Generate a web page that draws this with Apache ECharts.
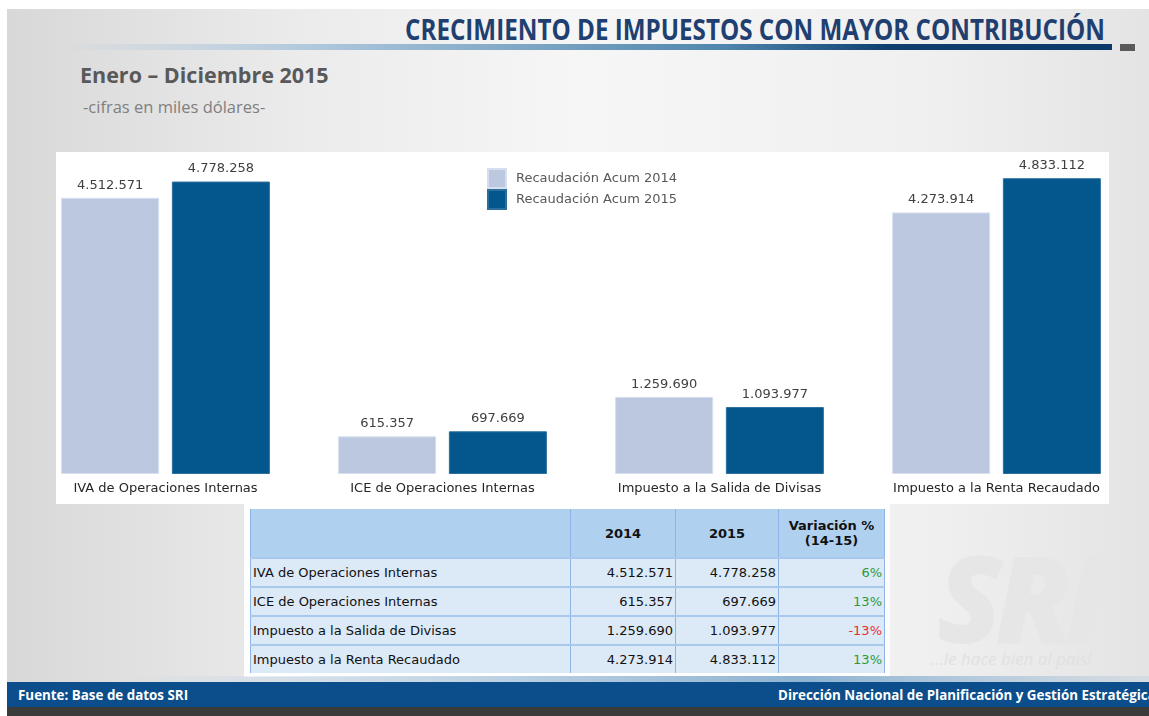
<!DOCTYPE html>
<html>
<head>
<meta charset="utf-8">
<script src="https://cdn.jsdelivr.net/npm/echarts@6/dist/echarts.min.js"></script>
<style>
  html, body { margin: 0; padding: 0; width: 1149px; height: 716px; overflow: hidden; background: #fff; }
  .slide { position: absolute; left: 7px; top: 9px; width: 1142px; height: 707px; overflow: hidden;
    background: linear-gradient(to right, #d8d8d8 0%, #ebebeb 25%, #f6f6f6 50%, #f0f0f0 80%, #e4e4e4 100%); }
  .title { position: absolute; left: 398px; top: 1px; font-family: "Open Sans", sans-serif;
    font-weight: bold; font-size: 28px; color: #1f3f70; white-space: nowrap; }
  .rule { position: absolute; left: 0; top: 35px; width: 1105px; height: 6px;
    background: linear-gradient(to right, rgba(200,215,228,0) 5%, #a9c4da 30%, #4f86ad 65%, #0d3e6e 80%, #0b3a6a 100%); }
  .rule-end { position: absolute; left: 1113px; top: 35px; width: 15px; height: 7px; background: #5a5a5a; }
  .sub1 { position: absolute; left: 73px; top: 51px; font-family: "Open Sans", sans-serif; font-weight: bold;
    font-size: 21.5px; color: #595959; white-space: nowrap; }
  .sub2 { position: absolute; left: 76px; top: 86px; font-family: "Open Sans", sans-serif; font-size: 16.5px;
    color: #7f7f7f; white-space: nowrap; }
  .chartbox { position: absolute; left: 49px; top: 143px; width: 1053px; height: 352px; background: #fff; }
  .wm { position: absolute; left: 930px; top: 528px; font-family: "Open Sans", sans-serif; font-weight: 800;
    font-style: italic; font-size: 120px; line-height: 1; color: #e6e6e6; letter-spacing: -8px; white-space: nowrap; }
  .wm2 { position: absolute; left: 924px; top: 638px; font-family: "Open Sans", sans-serif; font-style: italic;
    font-size: 17px; color: #e1e1e1; white-space: nowrap; }
  .footline { position: absolute; left: 0; top: 667px; width: 1142px; height: 6px;
    background: linear-gradient(to right, rgba(180,200,220,0) 10%, #b9cfe2 45%, #8fb3d2 70%, rgba(180,200,220,0.3) 100%); }
  .footer { position: absolute; left: 0; top: 673px; width: 1142px; height: 25px; background: #0b4e8b; }
  .footer2 { position: absolute; left: 0; top: 698px; width: 1142px; height: 9px; background: #3b3b3b; }
  .ft { position: absolute; top: 3px; font-family: "Open Sans", sans-serif; font-weight: bold;
    font-size: 14px; color: #fff; white-space: nowrap; }
  .tablebox { position: absolute; left: 237px; top: 494px; width: 646px; height: 174px; background: #fff; }
  table { position: absolute; left: 6px; top: 6px; border-collapse: collapse; font-family: "DejaVu Sans", sans-serif;
    font-size: 13px; color: #111; }
  td, th { border-left: 1px solid #8db4e2; border-right: 1px solid #8db4e2; padding: 0 2px; height: 27px;
    border-top: 2px solid #a9c9ec; }
  th { background: #b0d0f0; height: 48px; font-weight: bold; font-size: 13px; border-top: none; }
  td { background: #dce9f7; }
  td.num { text-align: right; }
  td.name { text-align: left; }
  #chart { position: absolute; left: 0; top: 0; width: 1149px; height: 716px; }
</style>
</head>
<body>
<div class="slide">
  <div class="title" id="title">CRECIMIENTO DE IMPUESTOS CON MAYOR CONTRIBUCIÓN</div>
  <div class="rule"></div>
  <div class="rule-end"></div>
  <div class="sub1">Enero – Diciembre 2015</div>
  <div class="sub2">-cifras en miles dólares-</div>
  <div class="chartbox"></div>
  <div class="wm">SRI</div>
  <div class="wm2">...le hace bien al país!</div>
  <div class="tablebox"><table id="tbl"></table></div>
  <div class="footline"></div>
  <div class="footer">
    <div class="ft" id="ftl" style="left:11px">Fuente: Base de datos SRI</div>
    <div class="ft" id="ftr" style="left:771px">Dirección Nacional de Planificación y Gestión Estratégica</div>
  </div>
  <div class="footer2"></div>
</div>
<div id="chart"></div>
<script>
var categories = ['IVA de Operaciones Internas', 'ICE de Operaciones Internas',
                  'Impuesto a la Salida de Divisas', 'Impuesto a la Renta Recaudado'];
var seriesNames = ['Recaudación Acum 2014', 'Recaudación Acum 2015'];
var acum2014 = [4512571, 615357, 1259690, 4273914];
var acum2015 = [4778258, 697669, 1093977, 4833112];
var variacion = [6, 13, -13, 13];
var tableHeader = ['', '2014', '2015', 'Variación %<br>(14-15)'];

function fmt(v) {
    return String(v).replace(/\B(?=(\d{3})+(?!\d))/g, '.');
}

// textos estrechos tipo Calibri: se ajusta el ancho
function fitWidth(id, w) {
    var el = document.getElementById(id);
    el.style.transformOrigin = '0 0';
    el.style.transform = 'scaleX(' + (w / el.offsetWidth) + ')';
}
fitWidth('title', 700);
fitWidth('ftl', 170);
fitWidth('ftr', 378);

// tabla inferior
var tbl = document.getElementById('tbl');
var widths = [315, 100, 98, 101];
var html = '<tr>';
tableHeader.forEach(function(h, i){
    html += '<th style="width:' + widths[i] + 'px">' + h + '</th>';
});
html += '</tr>';
categories.forEach(function(c, i){
    var col = variacion[i] < 0 ? '#e8312f' : '#2e9a36';
    html += '<tr><td class="name">' + c + '</td>' +
            '<td class="num">' + fmt(acum2014[i]) + '</td>' +
            '<td class="num">' + fmt(acum2015[i]) + '</td>' +
            '<td class="num" style="color:' + col + '">' + variacion[i] + '%</td></tr>';
});
tbl.innerHTML = html;

var chart = echarts.init(document.getElementById('chart'));

var labelStyle = {
    show: true,
    position: 'top',
    distance: 6,
    color: '#404040',
    fontSize: 13,
    fontFamily: 'DejaVu Sans',
    formatter: function(p){ return fmt(p.value); }
};

var option = {
    animation: false,
    legend: {
        orient: 'vertical',
        left: 482,
        top: 163,
        itemWidth: 18,
        itemHeight: 19,
        itemGap: 0,
        icon: 'rect',
        textStyle: { color: '#595959', fontSize: 13, fontFamily: 'DejaVu Sans', padding: [0, 0, 0, 5] },
        data: seriesNames
    },
    grid: { left: 27, top: 168, width: 1108, height: 306 },
    xAxis: {
        type: 'category',
        data: categories,
        axisLine: { show: false },
        axisTick: { show: false },
        axisLabel: { color: '#262626', fontSize: 13, fontFamily: 'DejaVu Sans', margin: 8 }
    },
    yAxis: {
        type: 'value',
        min: 0,
        max: 5000000,
        show: false,
        splitLine: { show: false }
    },
    series: [
        {
            name: seriesNames[0],
            type: 'bar',
            data: acum2014,
            barWidth: 98,
            barGap: '13%',
            itemStyle: { color: '#bcc8e0', borderColor: '#d6def0', borderWidth: 1 },
            label: labelStyle
        },
        {
            name: seriesNames[1],
            type: 'bar',
            data: acum2015,
            barWidth: 98,
            barGap: '13%',
            itemStyle: { color: '#03578c', borderColor: '#2a6f9e', borderWidth: 1 },
            label: labelStyle
        }
    ]
};

chart.setOption(option);
</script>
</body>
</html>
